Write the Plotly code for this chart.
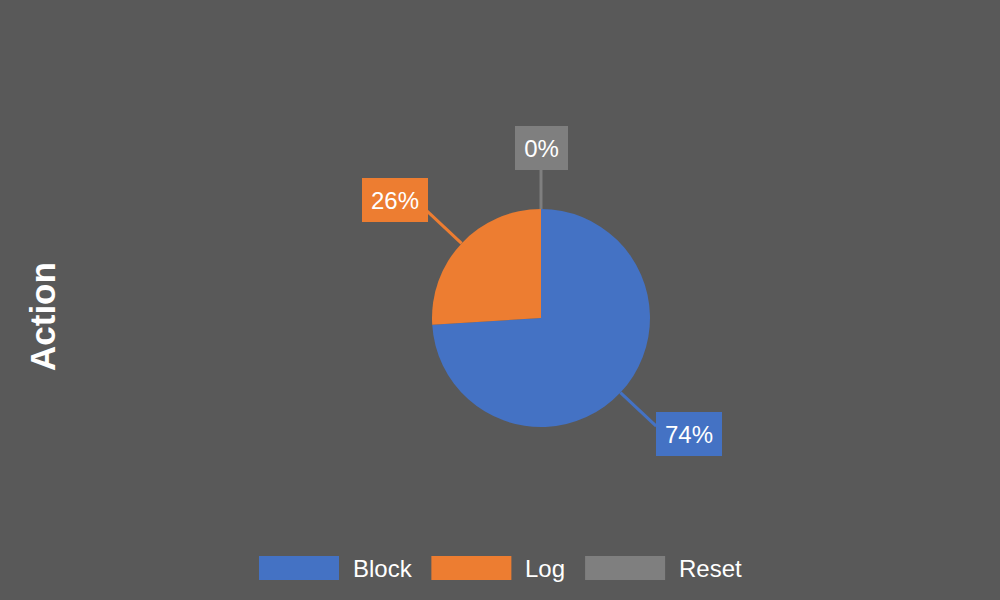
import math
import plotly.graph_objects as go

# ---- data ----
labels = ["Block", "Log", "Reset"]
values = [74, 26, 0]
colors = ["#4472C4", "#ED7D31", "#7F7F7F"]
axis_title = "Action"

W, H = 1000, 600
BG = "#595959"
FONT = "Liberation Sans, Arial, sans-serif"

# pie geometry (pixels)
cx, cy, r = 541, 318, 109
dom_x = [(cx - r) / W, (cx + r) / W]
dom_y = [1 - (cy + r) / H, 1 - (cy - r) / H]

fig = go.Figure()
fig.add_trace(go.Pie(
    labels=labels, values=values, sort=False, direction="clockwise", rotation=0,
    marker=dict(colors=colors, line=dict(width=0)),
    textinfo="none", hoverinfo="label+percent", showlegend=False,
    domain=dict(x=dom_x, y=dom_y),
))

def px2paper(x, y):
    return x / W, 1 - y / H

total = sum(values)
cum = 0.0
shapes = []
annotations = []
for lab, v, c in zip(labels, values, colors):
    mid = (cum + v / 2) / total * 2 * math.pi
    cum += v
    dx, dy = math.sin(mid), -math.cos(mid)  # screen coords (y down)
    x0, y0 = cx + r * dx, cy + r * dy
    x1, y1 = cx + 1.45 * r * dx, cy + 1.45 * r * dy
    p0, p1 = px2paper(x0, y0), px2paper(x1, y1)
    shapes.append(dict(type="line", xref="paper", yref="paper",
                       x0=p0[0], y0=p0[1], x1=p1[0], y1=p1[1],
                       line=dict(color=c, width=3), layer="below"))
    pct = f"{round(v / total * 100)}%"
    tw = sum(21.3 if ch == "%" else 13.3 for ch in pct)
    ys = -12 * dy
    if dx > 0.3:
        xa, xs = "left", 0
    elif dx < -0.3:
        xa, xs = "right", 2
        ys += 2
    else:
        xa, xs = "center", 0
    annotations.append(dict(
        x=p1[0], y=p1[1], xref="paper", yref="paper", text=pct, showarrow=False,
        xanchor=xa, yanchor="middle", yshift=ys, xshift=xs,
        bgcolor=c, borderpad=0, borderwidth=0, width=round(tw + 18), height=44,
        align="center", valign="middle",
        font=dict(family=FONT, size=24, color="white"),
    ))

# manual legend
char_w = {"B": .667, "l": .222, "o": .556, "c": .5, "k": .5, "L": .556, "g": .556,
          "R": .722, "e": .556, "s": .5, "t": .278}
sw_w, sw_h, gap1, gap2 = 80, 24, 12, 21.7
widths = [sum(char_w.get(ch, .556) for ch in lab) * 24 for lab in labels]
total_w = sum(sw_w + gap1 + w for w in widths) + gap2 * (len(labels) - 1)
x = (W - total_w) / 2 - 0.6
ly = 568
for lab, c, w in zip(labels, colors, widths):
    a0 = px2paper(x, ly - sw_h / 2)
    a1 = px2paper(x + sw_w, ly + sw_h / 2)
    shapes.append(dict(type="rect", xref="paper", yref="paper",
                       x0=a0[0], y0=a0[1], x1=a1[0], y1=a1[1],
                       fillcolor=c, line=dict(width=0)))
    tx = px2paper(x + sw_w + gap1, ly)
    annotations.append(dict(x=tx[0], y=tx[1], xref="paper", yref="paper", text=lab,
                            showarrow=False, xanchor="left", yanchor="middle",
                            font=dict(family=FONT, size=24, color="white")))
    x += sw_w + gap1 + w + gap2

# axis title
t = px2paper(42, 317)
annotations.append(dict(x=t[0], y=t[1], xref="paper", yref="paper",
                        text=f"<b>{axis_title}</b>", showarrow=False, textangle=-90,
                        xanchor="center", yanchor="middle",
                        font=dict(family=FONT, size=35, color="white")))

fig.update_layout(
    width=W, height=H, margin=dict(l=0, r=0, t=0, b=0),
    paper_bgcolor=BG, plot_bgcolor=BG,
    shapes=shapes, annotations=annotations, showlegend=False,
)
fig.write_html("out.html")
